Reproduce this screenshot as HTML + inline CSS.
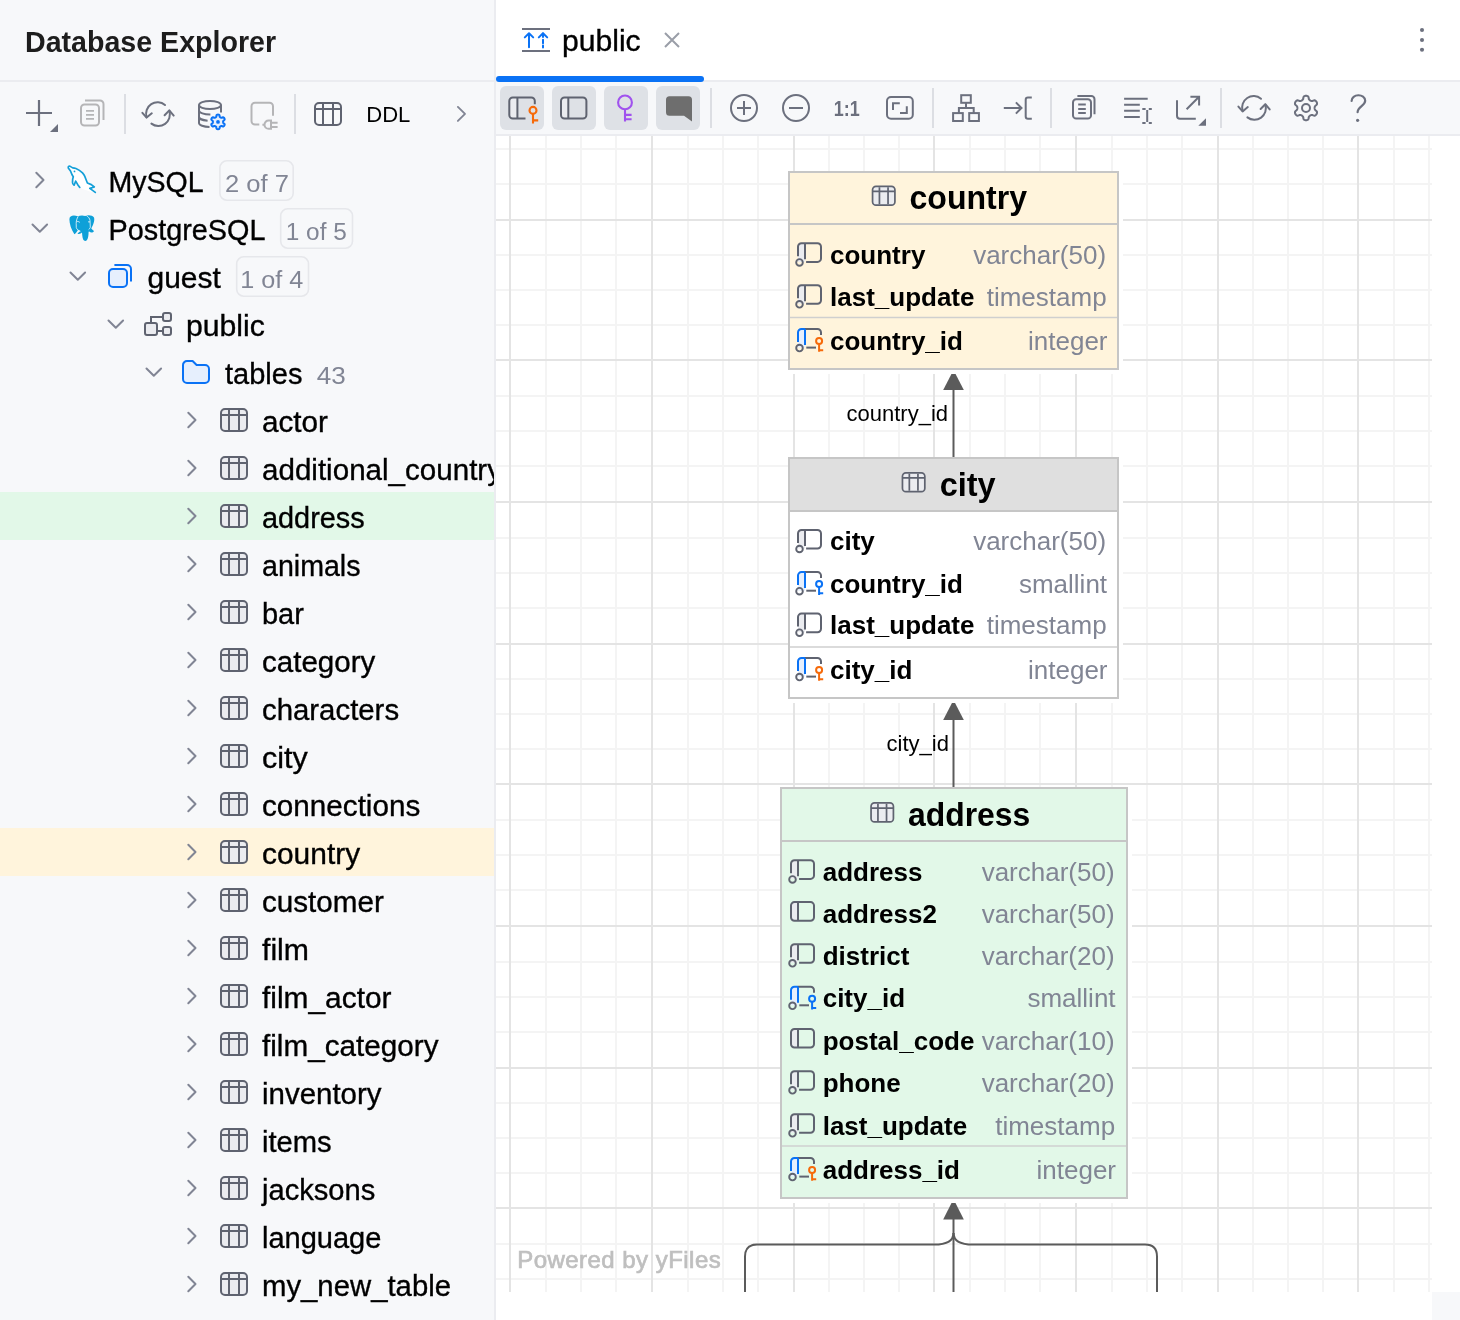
<!DOCTYPE html><html><head><meta charset="utf-8"><title>Database Explorer</title><style>
html,body{margin:0;padding:0;width:1460px;height:1320px;overflow:hidden;background:#fff;}
body{font-family:'Liberation Sans', sans-serif;position:relative;}
.panel{position:absolute;left:0;top:0;width:494px;height:1320px;background:#f7f8fa;}
.divider{position:absolute;left:494px;top:0;width:2px;height:1320px;background:#ebecf0;}
.editor{position:absolute;left:496px;top:0;width:964px;height:1320px;background:#fff;}
.tabs{position:absolute;left:0;top:0;width:964px;height:80px;background:#fff;border-bottom:2px solid #ebecf0;}
.dtool{position:absolute;left:0;top:82px;width:964px;height:52px;background:#f7f8fa;border-bottom:2px solid #ebecf0;}
.corner{position:absolute;left:936px;top:1292px;width:28px;height:28px;background:#f7f8fa;}
svg{position:absolute;left:0;top:0;overflow:visible;will-change:transform}
svg text{font-family:"Liberation Sans",sans-serif;white-space:pre}
</style></head><body>
<div class="panel"></div><div class="divider"></div>
<div class="editor"><div class="tabs"></div><div class="dtool"></div><div class="corner"></div></div>
<svg width="1460" height="1320" viewBox="0 0 1460 1320">
<text x="25" y="52.4" font-size="28.6" fill="#1d1d1d" font-weight="bold" text-anchor="start" >Database Explorer</text>
<rect x="0" y="80" width="494" height="2" fill="#ebecf0"/>
<path d="M26 113 H52 M39 100 V126" stroke="#6c707e" stroke-width="2.2"/>
<path d="M58 124 V132 H50 Z" fill="#6c707e"/>
<path d="M85 100.5 H100 A3.5 3.5 0 0 1 103.5 104 V120" fill="none" stroke="#b5b5b7" stroke-width="2"/>
<rect x="81" y="104.5" width="18" height="21" rx="3.5" fill="none" stroke="#b5b5b7" stroke-width="2"/>
<path d="M86 110.9 H94 M86 114.8 H94 M86 118.8 H94" stroke="#b5b5b7" stroke-width="1.8"/>
<rect x="124" y="94" width="2" height="40" fill="#dcdee3"/>
<g transform="translate(158 114.2)" fill="none" stroke="#6c707e" stroke-width="2" stroke-linecap="round" stroke-linejoin="round"><path d="M-11.4 3 A11.5 11.5 0 0 1 7 -9.2"/><path d="M-15.6 -1.4 L-11.4 3.4 L-6.2 -0.9"/><path d="M-6.6 9.4 A11.5 11.5 0 0 0 11.3 -3.4"/><path d="M6.6 1 L11.3 -3.8 L15.7 1.4"/></g>
<g fill="none" stroke="#6c707e" stroke-width="2"><ellipse cx="210" cy="105" rx="11" ry="4"/><path d="M199 105 V123 A11 4 0 0 0 209.5 127"/><path d="M199 110.5 A11 4 0 0 0 210.4 114.5"/><path d="M199 116.7 A11 4 0 0 0 207.6 120.7"/><path d="M221 105 V112.4"/></g>
<path d="M223.10 121.90 L223.11 122.12 L223.13 122.35 L223.18 122.58 L223.26 122.83 L223.38 123.09 L223.99 123.50 L224.57 123.97 L224.64 124.32 L224.63 124.65 L224.57 124.96 L224.46 125.26 L224.32 125.55 L224.15 125.82 L223.94 126.06 L223.69 126.27 L223.41 126.44 L223.08 126.55 L222.38 126.28 L221.73 125.97 L221.43 125.99 L221.18 126.05 L220.96 126.12 L220.75 126.21 L220.55 126.32 L220.36 126.44 L220.18 126.57 L220.00 126.73 L219.83 126.92 L219.66 127.16 L219.60 127.89 L219.49 128.62 L219.23 128.86 L218.94 129.01 L218.63 129.12 L218.32 129.18 L218.00 129.20 L217.68 129.18 L217.37 129.12 L217.06 129.01 L216.77 128.86 L216.51 128.62 L216.40 127.89 L216.34 127.16 L216.17 126.92 L216.00 126.73 L215.82 126.57 L215.64 126.44 L215.45 126.32 L215.25 126.21 L215.04 126.12 L214.82 126.05 L214.57 125.99 L214.27 125.97 L213.62 126.28 L212.92 126.55 L212.59 126.44 L212.31 126.27 L212.06 126.06 L211.85 125.82 L211.68 125.55 L211.54 125.26 L211.43 124.96 L211.37 124.65 L211.36 124.32 L211.43 123.97 L212.01 123.50 L212.62 123.09 L212.74 122.83 L212.82 122.58 L212.87 122.35 L212.89 122.12 L212.90 121.90 L212.89 121.68 L212.87 121.45 L212.82 121.22 L212.74 120.97 L212.62 120.71 L212.01 120.30 L211.43 119.83 L211.36 119.48 L211.37 119.15 L211.43 118.84 L211.54 118.54 L211.68 118.25 L211.85 117.98 L212.06 117.74 L212.31 117.53 L212.59 117.36 L212.92 117.25 L213.62 117.52 L214.27 117.83 L214.57 117.81 L214.82 117.75 L215.04 117.68 L215.25 117.59 L215.45 117.48 L215.64 117.36 L215.82 117.23 L216.00 117.07 L216.17 116.88 L216.34 116.64 L216.40 115.91 L216.51 115.18 L216.77 114.94 L217.06 114.79 L217.37 114.68 L217.68 114.62 L218.00 114.60 L218.32 114.62 L218.63 114.68 L218.94 114.79 L219.23 114.94 L219.49 115.18 L219.60 115.91 L219.66 116.64 L219.83 116.88 L220.00 117.07 L220.18 117.23 L220.36 117.36 L220.55 117.48 L220.75 117.59 L220.96 117.68 L221.18 117.75 L221.43 117.81 L221.73 117.83 L222.38 117.52 L223.08 117.25 L223.41 117.36 L223.69 117.53 L223.94 117.74 L224.15 117.98 L224.32 118.25 L224.46 118.54 L224.57 118.84 L224.63 119.15 L224.64 119.48 L224.57 119.83 L223.99 120.30 L223.38 120.71 L223.26 120.97 L223.18 121.22 L223.13 121.45 L223.11 121.68 Z" fill="#e6effd" stroke="#0a72f5" stroke-width="2" stroke-linejoin="round"/>
<circle cx="218" cy="121.9" r="1.9" fill="#0a72f5"/>
<g fill="none" stroke="#b5b5b7" stroke-width="2"><path d="M259.3 124.5 H255 A3.5 3.5 0 0 1 251.5 121 V106.3 A3.5 3.5 0 0 1 255 102.8 H269.5 A3.5 3.5 0 0 1 273 106.3 V115.7"/><path d="M271 120.6 H268.6 A4.1 4.1 0 0 0 268.6 128.8 H271 Z"/><path d="M262.4 124.7 H265 M271 122.7 H277.6 M271 126.9 H277.6"/></g>
<rect x="294" y="94" width="2" height="40" fill="#dcdee3"/>
<g transform="translate(312 98) scale(2)"><rect x="1.5" y="2.5" width="13" height="11" rx="2" fill="none" stroke="#5f6370" stroke-width="1"/><path d="M1.5 5.5 H14.5 M5.5 3 V13 M10.5 3 V13" stroke="#5f6370" stroke-width="1" fill="none"/></g>
<text x="366.2" y="122.1" font-size="22.5" fill="#000" font-weight="normal" text-anchor="start" textLength="44.2" lengthAdjust="spacingAndGlyphs">DDL</text>
<path d="M457.9 106.9 L465 113.9 L457.9 120.9" fill="none" stroke="#818594" stroke-width="1.9" stroke-linecap="round" stroke-linejoin="round"/>
<rect x="0" y="492" width="494" height="48" fill="#e2f8e8"/>
<rect x="0" y="828" width="494" height="48" fill="#fff4dc"/>
<defs><clipPath id="clipL"><rect x="0" y="0" width="494" height="1320"/></clipPath><clipPath id="clipC"><rect x="496" y="136" width="936" height="1156"/></clipPath></defs>
<g clip-path="url(#clipL)">
<g transform="translate(23.8 164) scale(2)"><path d="M6.25 4.35 L9.85 8 L6.25 11.65" fill="none" stroke="#818594" stroke-width="1" stroke-linecap="round" stroke-linejoin="round"/></g>
<g transform="translate(66 164) scale(2)"><path d="M6.90 11.70 L5.80 10.20 L4.85 8.55 L4.05 10.60 Q3.20 10.10 3.25 9.20 L3.35 7.45 Q3.55 6.75 3.65 6.35 L3.10 5.55 L2.25 3.50 L1.15 2.00 Q0.95 1.05 1.90 1.05 L3.35 1.95 Q4.25 2.00 4.95 2.25 Q6.80 3.00 8.25 4.45 Q9.10 5.40 9.40 6.20 L10.20 8.25 L10.70 9.50 L12.65 10.30 L14.15 11.50 L11.90 12.20 L14.65 14.20 L12.00 13.80 L9.00 12.80 Z" fill="#fff"/><path d="M6.90 11.70 L5.80 10.20 L4.85 8.55 L4.05 10.60 Q3.20 10.10 3.25 9.20 L3.35 7.45 Q3.55 6.75 3.65 6.35 L3.10 5.55 L2.25 3.50 L1.15 2.00 Q0.95 1.05 1.90 1.05 L3.35 1.95 Q4.25 2.00 4.95 2.25 Q6.80 3.00 8.25 4.45 Q9.10 5.40 9.40 6.20 L10.20 8.25 L10.70 9.50 L12.65 10.30 L14.15 11.50 L11.90 12.20 L14.65 14.20" fill="none" stroke="#139fd8" stroke-width="0.85" stroke-linejoin="round" stroke-linecap="round"/><circle cx="4.25" cy="3.7" r="0.45" fill="#139fd8"/></g>
<text x="108.5" y="192.4" font-size="29" fill="#000" font-weight="normal" text-anchor="start" textLength="95.14" lengthAdjust="spacingAndGlyphs" stroke="#000" stroke-width="0.35">MySQL</text>
<rect x="219.9" y="160.8" width="73.30000000000001" height="39.4" rx="7" fill="none" stroke="#e6e7eb" stroke-width="1.6"/>
<text x="225.0" y="191.9" font-size="24.6" fill="#818594" font-weight="normal" text-anchor="start" textLength="63.96" lengthAdjust="spacingAndGlyphs">2 of 7</text>
<g transform="translate(23.8 212) scale(2)"><path d="M4.35 6.25 L8 9.85 L11.65 6.25" fill="none" stroke="#818594" stroke-width="1" stroke-linecap="round" stroke-linejoin="round"/></g>
<g transform="translate(66 212) scale(2)"><path d="M1.70 3.60 C1.70 1.80 3.75 1.30 5.90 2.15 C7.00 1.60 8.50 1.55 9.60 1.95 C10.70 1.35 13.30 1.40 14.00 2.80 C14.50 4.25 13.60 6.60 12.65 8.20 C13.10 8.80 13.70 9.10 14.00 9.60 C13.40 10.40 12.40 10.40 11.60 9.80 L11.30 9.90 C11.30 11.50 11.10 13.15 10.50 14.00 C10.00 14.65 9.05 14.65 8.65 13.90 C8.15 12.70 8.10 11.30 8.00 10.20 C7.30 10.70 6.50 11.10 5.70 11.00 C6.10 10.40 6.70 9.90 7.20 9.55 L6.00 8.95 C5.45 9.80 4.90 10.60 4.20 11.10 C2.60 8.80 1.70 5.80 1.70 3.60 Z" fill="#0ea0d8"/><path d="M6.10 2.20 C5.40 3.25 5.10 4.50 5.10 5.75 L5.15 7.80 C5.40 8.75 6.30 9.35 7.20 9.60 M10.20 1.80 C11.20 2.40 11.90 3.30 12.00 4.25 L12.15 7.70 C12.00 8.30 11.50 8.60 11.30 8.80 M5.30 4.80 C5.80 4.65 6.40 4.75 6.90 5.20 M11.00 5.00 C11.30 4.80 11.70 4.80 12.00 5.05" fill="none" stroke="#fff" stroke-width="0.42" opacity="0.9"/></g>
<text x="108.55" y="240.4" font-size="29" fill="#000" font-weight="normal" text-anchor="start" textLength="156.9" lengthAdjust="spacingAndGlyphs" stroke="#000" stroke-width="0.35">PostgreSQL</text>
<rect x="280.7" y="208.8" width="71.80000000000004" height="39.4" rx="7" fill="none" stroke="#e6e7eb" stroke-width="1.6"/>
<text x="285.8" y="239.9" font-size="24.6" fill="#818594" font-weight="normal" text-anchor="start" textLength="60.99" lengthAdjust="spacingAndGlyphs">1 of 5</text>
<g transform="translate(61.8 260) scale(2)"><path d="M4.35 6.25 L8 9.85 L11.65 6.25" fill="none" stroke="#818594" stroke-width="1" stroke-linecap="round" stroke-linejoin="round"/></g>
<g transform="translate(104 260) scale(2)"><path d="M5.2 2.5 H11.5 A2 2 0 0 1 13.5 4.5 V10.8" fill="none" stroke="#0a72f5" stroke-width="1" stroke-linecap="butt"/><rect x="2.5" y="4.5" width="9" height="9" rx="2" fill="#e6effd" stroke="#0a72f5" stroke-width="1"/></g>
<text x="147.55" y="288.4" font-size="29" fill="#000" font-weight="normal" text-anchor="start" textLength="73.3" lengthAdjust="spacingAndGlyphs" stroke="#000" stroke-width="0.35">guest</text>
<rect x="236.70000000000002" y="256.8" width="71.80000000000001" height="39.4" rx="7" fill="none" stroke="#e6e7eb" stroke-width="1.6"/>
<text x="240.3" y="287.9" font-size="24.6" fill="#818594" font-weight="normal" text-anchor="start" textLength="63.04" lengthAdjust="spacingAndGlyphs">1 of 4</text>
<g transform="translate(99.8 308) scale(2)"><path d="M4.35 6.25 L8 9.85 L11.65 6.25" fill="none" stroke="#818594" stroke-width="1" stroke-linecap="round" stroke-linejoin="round"/></g>
<g transform="translate(142 308) scale(2)"><path d="M4.5 7.5 V4.5 H10.5 M7.5 11.5 H10.5" fill="none" stroke="#5f6370" stroke-width="1"/><rect x="1.5" y="7.5" width="6" height="6" rx="1" fill="#ebecf0" stroke="#5f6370" stroke-width="1"/><rect x="10.5" y="2.5" width="4" height="4" rx="1" fill="#ebecf0" stroke="#5f6370" stroke-width="1"/><rect x="10.5" y="9.5" width="4" height="4" rx="1" fill="#ebecf0" stroke="#5f6370" stroke-width="1"/></g>
<text x="185.94" y="336.4" font-size="29" fill="#000" font-weight="normal" text-anchor="start" textLength="78.86" lengthAdjust="spacingAndGlyphs" stroke="#000" stroke-width="0.35">public</text>
<g transform="translate(137.8 356) scale(2)"><path d="M4.35 6.25 L8 9.85 L11.65 6.25" fill="none" stroke="#818594" stroke-width="1" stroke-linecap="round" stroke-linejoin="round"/></g>
<g transform="translate(180 356) scale(2)"><path d="M1.5 4.5 A2 2 0 0 1 3.5 2.5 H6.3 L8.3 4.5 H12.5 A2 2 0 0 1 14.5 6.5 V11.5 A2 2 0 0 1 12.5 13.5 H3.5 A2 2 0 0 1 1.5 11.5 Z" fill="#e6effd" stroke="#0a72f5" stroke-width="1" stroke-linejoin="round"/></g>
<text x="225.0" y="384.4" font-size="29" fill="#000" font-weight="normal" text-anchor="start"  stroke="#000" stroke-width="0.35">tables</text>
<text x="316.8" y="384.4" font-size="24.5" fill="#818594" font-weight="normal" text-anchor="start" textLength="29" lengthAdjust="spacingAndGlyphs">43</text>
<g transform="translate(175.8 404) scale(2)"><path d="M6.25 4.35 L9.85 8 L6.25 11.65" fill="none" stroke="#818594" stroke-width="1" stroke-linecap="round" stroke-linejoin="round"/></g>
<g transform="translate(218 404) scale(2)"><rect x="1.5" y="2.5" width="13" height="11" rx="2" fill="#ebecf0" stroke="#5f6370" stroke-width="1"/><path d="M1.5 5.5 H14.5 M5.5 3 V13 M10.5 3 V13" stroke="#5f6370" stroke-width="1" fill="none"/></g>
<text x="262.0" y="432.4" font-size="29" fill="#000" font-weight="normal" text-anchor="start" textLength="65.97" lengthAdjust="spacingAndGlyphs" stroke="#000" stroke-width="0.35">actor</text>
<g transform="translate(175.8 452) scale(2)"><path d="M6.25 4.35 L9.85 8 L6.25 11.65" fill="none" stroke="#818594" stroke-width="1" stroke-linecap="round" stroke-linejoin="round"/></g>
<g transform="translate(218 452) scale(2)"><rect x="1.5" y="2.5" width="13" height="11" rx="2" fill="#ebecf0" stroke="#5f6370" stroke-width="1"/><path d="M1.5 5.5 H14.5 M5.5 3 V13 M10.5 3 V13" stroke="#5f6370" stroke-width="1" fill="none"/></g>
<text x="262.0" y="480.4" font-size="29" fill="#000" font-weight="normal" text-anchor="start" textLength="240.01" lengthAdjust="spacingAndGlyphs" stroke="#000" stroke-width="0.35">additional_country</text>
<g transform="translate(175.8 500) scale(2)"><path d="M6.25 4.35 L9.85 8 L6.25 11.65" fill="none" stroke="#818594" stroke-width="1" stroke-linecap="round" stroke-linejoin="round"/></g>
<g transform="translate(218 500) scale(2)"><rect x="1.5" y="2.5" width="13" height="11" rx="2" fill="#ebecf0" stroke="#5f6370" stroke-width="1"/><path d="M1.5 5.5 H14.5 M5.5 3 V13 M10.5 3 V13" stroke="#5f6370" stroke-width="1" fill="none"/></g>
<text x="262.0" y="528.4" font-size="29" fill="#000" font-weight="normal" text-anchor="start" textLength="102.65" lengthAdjust="spacingAndGlyphs" stroke="#000" stroke-width="0.35">address</text>
<g transform="translate(175.8 548) scale(2)"><path d="M6.25 4.35 L9.85 8 L6.25 11.65" fill="none" stroke="#818594" stroke-width="1" stroke-linecap="round" stroke-linejoin="round"/></g>
<g transform="translate(218 548) scale(2)"><rect x="1.5" y="2.5" width="13" height="11" rx="2" fill="#ebecf0" stroke="#5f6370" stroke-width="1"/><path d="M1.5 5.5 H14.5 M5.5 3 V13 M10.5 3 V13" stroke="#5f6370" stroke-width="1" fill="none"/></g>
<text x="262.0" y="576.4" font-size="29" fill="#000" font-weight="normal" text-anchor="start" textLength="98.48" lengthAdjust="spacingAndGlyphs" stroke="#000" stroke-width="0.35">animals</text>
<g transform="translate(175.8 596) scale(2)"><path d="M6.25 4.35 L9.85 8 L6.25 11.65" fill="none" stroke="#818594" stroke-width="1" stroke-linecap="round" stroke-linejoin="round"/></g>
<g transform="translate(218 596) scale(2)"><rect x="1.5" y="2.5" width="13" height="11" rx="2" fill="#ebecf0" stroke="#5f6370" stroke-width="1"/><path d="M1.5 5.5 H14.5 M5.5 3 V13 M10.5 3 V13" stroke="#5f6370" stroke-width="1" fill="none"/></g>
<text x="262.0" y="624.4" font-size="29" fill="#000" font-weight="normal" text-anchor="start" textLength="41.91" lengthAdjust="spacingAndGlyphs" stroke="#000" stroke-width="0.35">bar</text>
<g transform="translate(175.8 644) scale(2)"><path d="M6.25 4.35 L9.85 8 L6.25 11.65" fill="none" stroke="#818594" stroke-width="1" stroke-linecap="round" stroke-linejoin="round"/></g>
<g transform="translate(218 644) scale(2)"><rect x="1.5" y="2.5" width="13" height="11" rx="2" fill="#ebecf0" stroke="#5f6370" stroke-width="1"/><path d="M1.5 5.5 H14.5 M5.5 3 V13 M10.5 3 V13" stroke="#5f6370" stroke-width="1" fill="none"/></g>
<text x="262.0" y="672.4" font-size="29" fill="#000" font-weight="normal" text-anchor="start" textLength="113.33" lengthAdjust="spacingAndGlyphs" stroke="#000" stroke-width="0.35">category</text>
<g transform="translate(175.8 692) scale(2)"><path d="M6.25 4.35 L9.85 8 L6.25 11.65" fill="none" stroke="#818594" stroke-width="1" stroke-linecap="round" stroke-linejoin="round"/></g>
<g transform="translate(218 692) scale(2)"><rect x="1.5" y="2.5" width="13" height="11" rx="2" fill="#ebecf0" stroke="#5f6370" stroke-width="1"/><path d="M1.5 5.5 H14.5 M5.5 3 V13 M10.5 3 V13" stroke="#5f6370" stroke-width="1" fill="none"/></g>
<text x="262.0" y="720.4" font-size="29" fill="#000" font-weight="normal" text-anchor="start" textLength="137.09" lengthAdjust="spacingAndGlyphs" stroke="#000" stroke-width="0.35">characters</text>
<g transform="translate(175.8 740) scale(2)"><path d="M6.25 4.35 L9.85 8 L6.25 11.65" fill="none" stroke="#818594" stroke-width="1" stroke-linecap="round" stroke-linejoin="round"/></g>
<g transform="translate(218 740) scale(2)"><rect x="1.5" y="2.5" width="13" height="11" rx="2" fill="#ebecf0" stroke="#5f6370" stroke-width="1"/><path d="M1.5 5.5 H14.5 M5.5 3 V13 M10.5 3 V13" stroke="#5f6370" stroke-width="1" fill="none"/></g>
<text x="262.0" y="768.4" font-size="29" fill="#000" font-weight="normal" text-anchor="start" textLength="45.71" lengthAdjust="spacingAndGlyphs" stroke="#000" stroke-width="0.35">city</text>
<g transform="translate(175.8 788) scale(2)"><path d="M6.25 4.35 L9.85 8 L6.25 11.65" fill="none" stroke="#818594" stroke-width="1" stroke-linecap="round" stroke-linejoin="round"/></g>
<g transform="translate(218 788) scale(2)"><rect x="1.5" y="2.5" width="13" height="11" rx="2" fill="#ebecf0" stroke="#5f6370" stroke-width="1"/><path d="M1.5 5.5 H14.5 M5.5 3 V13 M10.5 3 V13" stroke="#5f6370" stroke-width="1" fill="none"/></g>
<text x="262.0" y="816.4" font-size="29" fill="#000" font-weight="normal" text-anchor="start" textLength="158.28" lengthAdjust="spacingAndGlyphs" stroke="#000" stroke-width="0.35">connections</text>
<g transform="translate(175.8 836) scale(2)"><path d="M6.25 4.35 L9.85 8 L6.25 11.65" fill="none" stroke="#818594" stroke-width="1" stroke-linecap="round" stroke-linejoin="round"/></g>
<g transform="translate(218 836) scale(2)"><rect x="1.5" y="2.5" width="13" height="11" rx="2" fill="#ebecf0" stroke="#5f6370" stroke-width="1"/><path d="M1.5 5.5 H14.5 M5.5 3 V13 M10.5 3 V13" stroke="#5f6370" stroke-width="1" fill="none"/></g>
<text x="262.0" y="864.4" font-size="29" fill="#000" font-weight="normal" text-anchor="start" textLength="98.12" lengthAdjust="spacingAndGlyphs" stroke="#000" stroke-width="0.35">country</text>
<g transform="translate(175.8 884) scale(2)"><path d="M6.25 4.35 L9.85 8 L6.25 11.65" fill="none" stroke="#818594" stroke-width="1" stroke-linecap="round" stroke-linejoin="round"/></g>
<g transform="translate(218 884) scale(2)"><rect x="1.5" y="2.5" width="13" height="11" rx="2" fill="#ebecf0" stroke="#5f6370" stroke-width="1"/><path d="M1.5 5.5 H14.5 M5.5 3 V13 M10.5 3 V13" stroke="#5f6370" stroke-width="1" fill="none"/></g>
<text x="262.0" y="912.4" font-size="29" fill="#000" font-weight="normal" text-anchor="start" textLength="121.87" lengthAdjust="spacingAndGlyphs" stroke="#000" stroke-width="0.35">customer</text>
<g transform="translate(175.8 932) scale(2)"><path d="M6.25 4.35 L9.85 8 L6.25 11.65" fill="none" stroke="#818594" stroke-width="1" stroke-linecap="round" stroke-linejoin="round"/></g>
<g transform="translate(218 932) scale(2)"><rect x="1.5" y="2.5" width="13" height="11" rx="2" fill="#ebecf0" stroke="#5f6370" stroke-width="1"/><path d="M1.5 5.5 H14.5 M5.5 3 V13 M10.5 3 V13" stroke="#5f6370" stroke-width="1" fill="none"/></g>
<text x="262.0" y="960.4" font-size="29" fill="#000" font-weight="normal" text-anchor="start" textLength="46.96" lengthAdjust="spacingAndGlyphs" stroke="#000" stroke-width="0.35">film</text>
<g transform="translate(175.8 980) scale(2)"><path d="M6.25 4.35 L9.85 8 L6.25 11.65" fill="none" stroke="#818594" stroke-width="1" stroke-linecap="round" stroke-linejoin="round"/></g>
<g transform="translate(218 980) scale(2)"><rect x="1.5" y="2.5" width="13" height="11" rx="2" fill="#ebecf0" stroke="#5f6370" stroke-width="1"/><path d="M1.5 5.5 H14.5 M5.5 3 V13 M10.5 3 V13" stroke="#5f6370" stroke-width="1" fill="none"/></g>
<text x="262.0" y="1008.4" font-size="29" fill="#000" font-weight="normal" text-anchor="start" textLength="129.5" lengthAdjust="spacingAndGlyphs" stroke="#000" stroke-width="0.35">film_actor</text>
<g transform="translate(175.8 1028) scale(2)"><path d="M6.25 4.35 L9.85 8 L6.25 11.65" fill="none" stroke="#818594" stroke-width="1" stroke-linecap="round" stroke-linejoin="round"/></g>
<g transform="translate(218 1028) scale(2)"><rect x="1.5" y="2.5" width="13" height="11" rx="2" fill="#ebecf0" stroke="#5f6370" stroke-width="1"/><path d="M1.5 5.5 H14.5 M5.5 3 V13 M10.5 3 V13" stroke="#5f6370" stroke-width="1" fill="none"/></g>
<text x="262.0" y="1056.4" font-size="29" fill="#000" font-weight="normal" text-anchor="start" textLength="176.54" lengthAdjust="spacingAndGlyphs" stroke="#000" stroke-width="0.35">film_category</text>
<g transform="translate(175.8 1076) scale(2)"><path d="M6.25 4.35 L9.85 8 L6.25 11.65" fill="none" stroke="#818594" stroke-width="1" stroke-linecap="round" stroke-linejoin="round"/></g>
<g transform="translate(218 1076) scale(2)"><rect x="1.5" y="2.5" width="13" height="11" rx="2" fill="#ebecf0" stroke="#5f6370" stroke-width="1"/><path d="M1.5 5.5 H14.5 M5.5 3 V13 M10.5 3 V13" stroke="#5f6370" stroke-width="1" fill="none"/></g>
<text x="262.0" y="1104.4" font-size="29" fill="#000" font-weight="normal" text-anchor="start" textLength="119.46" lengthAdjust="spacingAndGlyphs" stroke="#000" stroke-width="0.35">inventory</text>
<g transform="translate(175.8 1124) scale(2)"><path d="M6.25 4.35 L9.85 8 L6.25 11.65" fill="none" stroke="#818594" stroke-width="1" stroke-linecap="round" stroke-linejoin="round"/></g>
<g transform="translate(218 1124) scale(2)"><rect x="1.5" y="2.5" width="13" height="11" rx="2" fill="#ebecf0" stroke="#5f6370" stroke-width="1"/><path d="M1.5 5.5 H14.5 M5.5 3 V13 M10.5 3 V13" stroke="#5f6370" stroke-width="1" fill="none"/></g>
<text x="262.0" y="1152.4" font-size="29" fill="#000" font-weight="normal" text-anchor="start" textLength="69.69" lengthAdjust="spacingAndGlyphs" stroke="#000" stroke-width="0.35">items</text>
<g transform="translate(175.8 1172) scale(2)"><path d="M6.25 4.35 L9.85 8 L6.25 11.65" fill="none" stroke="#818594" stroke-width="1" stroke-linecap="round" stroke-linejoin="round"/></g>
<g transform="translate(218 1172) scale(2)"><rect x="1.5" y="2.5" width="13" height="11" rx="2" fill="#ebecf0" stroke="#5f6370" stroke-width="1"/><path d="M1.5 5.5 H14.5 M5.5 3 V13 M10.5 3 V13" stroke="#5f6370" stroke-width="1" fill="none"/></g>
<text x="262.0" y="1200.4" font-size="29" fill="#000" font-weight="normal" text-anchor="start" textLength="113.32" lengthAdjust="spacingAndGlyphs" stroke="#000" stroke-width="0.35">jacksons</text>
<g transform="translate(175.8 1220) scale(2)"><path d="M6.25 4.35 L9.85 8 L6.25 11.65" fill="none" stroke="#818594" stroke-width="1" stroke-linecap="round" stroke-linejoin="round"/></g>
<g transform="translate(218 1220) scale(2)"><rect x="1.5" y="2.5" width="13" height="11" rx="2" fill="#ebecf0" stroke="#5f6370" stroke-width="1"/><path d="M1.5 5.5 H14.5 M5.5 3 V13 M10.5 3 V13" stroke="#5f6370" stroke-width="1" fill="none"/></g>
<text x="262.0" y="1248.4" font-size="29" fill="#000" font-weight="normal" text-anchor="start" textLength="119.31" lengthAdjust="spacingAndGlyphs" stroke="#000" stroke-width="0.35">language</text>
<g transform="translate(175.8 1268) scale(2)"><path d="M6.25 4.35 L9.85 8 L6.25 11.65" fill="none" stroke="#818594" stroke-width="1" stroke-linecap="round" stroke-linejoin="round"/></g>
<g transform="translate(218 1268) scale(2)"><rect x="1.5" y="2.5" width="13" height="11" rx="2" fill="#ebecf0" stroke="#5f6370" stroke-width="1"/><path d="M1.5 5.5 H14.5 M5.5 3 V13 M10.5 3 V13" stroke="#5f6370" stroke-width="1" fill="none"/></g>
<text x="262.0" y="1296.4" font-size="29" fill="#000" font-weight="normal" text-anchor="start" textLength="188.99" lengthAdjust="spacingAndGlyphs" stroke="#000" stroke-width="0.35">my_new_table</text>
</g>
<rect x="494" y="0" width="2" height="1320" fill="#ebecf0"/>
<rect x="496" y="80" width="964" height="2" fill="#ebecf0"/>
<rect x="496" y="76" width="208" height="6" rx="3" fill="#0a72f5"/>
<path d="M522 29 H550 M522 51 H550" stroke="#6c707e" stroke-width="2"/>
<path d="M529 47.3 V34 M524.8 37.4 L529 33.2 L533.2 37.4" fill="none" stroke="#0a72f5" stroke-width="2" stroke-linecap="round" stroke-linejoin="round"/>
<path d="M543 39.8 V43.2 M543 45.6 V47.4 M543 33.6 V37" fill="none" stroke="#0a72f5" stroke-width="2" stroke-linecap="round"/>
<path d="M538.8 37.4 L543 33.2 L547.2 37.4" fill="none" stroke="#0a72f5" stroke-width="2" stroke-linecap="round" stroke-linejoin="round"/>
<text x="561.94" y="51.4" font-size="29" fill="#000" font-weight="normal" text-anchor="start" textLength="78.76" lengthAdjust="spacingAndGlyphs" stroke="#000" stroke-width="0.35">public</text>
<path d="M665 33 L679 47 M679 33 L665 47" stroke="#9a9ea8" stroke-width="2"/>
<circle cx="1422" cy="30" r="2.05" fill="#6c707e"/>
<circle cx="1422" cy="40" r="2.05" fill="#6c707e"/>
<circle cx="1422" cy="49.8" r="2.05" fill="#6c707e"/>
<rect x="500" y="86" width="44" height="44" rx="6" fill="#dee1e6"/>
<rect x="552" y="86" width="44" height="44" rx="6" fill="#dee1e6"/>
<rect x="604" y="86" width="44" height="44" rx="6" fill="#dee1e6"/>
<rect x="656" y="86" width="44" height="44" rx="6" fill="#dee1e6"/>
<rect x="509.3" y="97.5" width="8" height="21" fill="#ebecf0"/>
<path d="M517.4 97.5 V118.5" stroke="#5f6370" stroke-width="2"/>
<path d="M525.5 118.5 H512.8 A3.5 3.5 0 0 1 509.3 115 V101 A3.5 3.5 0 0 1 512.8 97.5 H531.3 A3.5 3.5 0 0 1 534.8 101 V104.2" fill="none" stroke="#5f6370" stroke-width="2"/>
<circle cx="533" cy="110.4" r="3.5" fill="none" stroke="#f66a0a" stroke-width="2.1"/>
<path d="M533 113.9 V123.6 M533 120.4 H538.2" fill="none" stroke="#f66a0a" stroke-width="2.1"/>
<rect x="561" y="97.5" width="7.3" height="21" fill="#ebecf0"/>
<rect x="561" y="97.5" width="25.4" height="21" rx="3.5" fill="none" stroke="#5f6370" stroke-width="2"/>
<path d="M568.3 97.5 V118.5" stroke="#5f6370" stroke-width="2"/>
<circle cx="625" cy="102.4" r="6.9" fill="none" stroke="#a052ee" stroke-width="2.1"/>
<path d="M625 109.2 V121.6 M625 114.9 H631.6 M625 119.2 H631.6" fill="none" stroke="#a052ee" stroke-width="2.1"/>
<path d="M669.5 96.2 H688.5 A3.5 3.5 0 0 1 692 99.7 V121.4 L684 115.8 H669.5 A3.5 3.5 0 0 1 666 112.3 V99.7 A3.5 3.5 0 0 1 669.5 96.2 Z" fill="#6e6e6e"/>
<rect x="710" y="88" width="2" height="40" fill="#dcdee3"/>
<rect x="932" y="88" width="2" height="40" fill="#dcdee3"/>
<rect x="1050" y="88" width="2" height="40" fill="#dcdee3"/>
<rect x="1220" y="88" width="2" height="40" fill="#dcdee3"/>
<circle cx="744" cy="108" r="13" fill="none" stroke="#6c707e" stroke-width="2"/><path d="M737 108 H751 M744 101 V115" stroke="#6c707e" stroke-width="2"/>
<circle cx="796" cy="108" r="13" fill="none" stroke="#6c707e" stroke-width="2"/><path d="M789 108 H803" stroke="#6c707e" stroke-width="2"/>
<text x="833.8" y="116.3" font-size="22.5" fill="#6c707e" font-weight="bold" text-anchor="start" textLength="26" lengthAdjust="spacingAndGlyphs">1:1</text>
<rect x="887" y="97" width="25.8" height="21.8" rx="4" fill="none" stroke="#6c707e" stroke-width="2"/>
<path d="M893 110 V103.2 H899.8 M906.8 106.2 V113 H900" fill="none" stroke="#6c707e" stroke-width="2"/>
<g fill="none" stroke="#6c707e" stroke-width="2"><rect x="961.2" y="95.2" width="9.6" height="7.6"/><rect x="953.1" y="113.1" width="9.7" height="7.9"/><rect x="969.2" y="113.1" width="9.7" height="7.9"/><path d="M966 102.8 V108.1 M958.9 113.1 V108.1 H973.7 V113.1"/></g>
<g fill="none" stroke="#6c707e" stroke-width="2"><path d="M1003.8 108 H1021.4 M1015.9 102.4 L1021.5 108 L1015.9 113.6"/><path d="M1031.8 97.4 H1028 A2.3 2.3 0 0 0 1025.7 99.7 V116.5 A2.3 2.3 0 0 0 1028 118.8 H1031.8"/></g>
<g fill="none" stroke="#6c707e" stroke-width="2"><path d="M1077.4 96 H1091.3 A3.2 3.2 0 0 1 1094.5 99.2 V114.2"/><rect x="1073" y="99.3" width="18" height="19.3" rx="3.2"/><path d="M1078.2 104.6 H1085.8 M1078.2 108.9 H1085.8 M1078.2 112.9 H1085.8"/></g>
<g fill="none" stroke="#6c707e" stroke-width="2"><path d="M1124.1 98.8 H1147.7 M1124.1 104.7 H1139.8 M1124.1 110.8 H1139.8 M1124.1 117 H1139.8"/><path d="M1147.2 110 V122 M1142.3 109 H1145.6 M1148.8 109 H1151.8 M1142.3 123 H1145.6 M1148.8 123 H1151.8"/></g>
<g fill="none" stroke="#6c707e" stroke-width="2"><path d="M1177 100.2 V115.8 A3 3 0 0 0 1180 118.8 H1195.8"/><path d="M1186.6 109.2 L1198.3 97.5 M1190.4 96.7 H1199.1 V105.5"/></g>
<path d="M1206 118.3 V125.8 H1198.3 Z" fill="#6c707e"/>
<g transform="translate(1254 108)" fill="none" stroke="#6c707e" stroke-width="2" stroke-linecap="round" stroke-linejoin="round"><path d="M-11.4 3 A11.5 11.5 0 0 1 7 -9.2"/><path d="M-15.6 -1.4 L-11.4 3.4 L-6.2 -0.9"/><path d="M-6.6 9.4 A11.5 11.5 0 0 0 11.3 -3.4"/><path d="M6.6 1 L11.3 -3.8 L15.7 1.4"/></g>
<path d="M1314.60 108.00 L1314.62 108.38 L1314.68 108.76 L1314.78 109.16 L1314.94 109.58 L1315.20 110.04 L1316.05 110.69 L1316.85 111.42 L1317.01 112.01 L1317.03 112.57 L1316.95 113.11 L1316.80 113.62 L1316.57 114.10 L1316.27 114.54 L1315.90 114.93 L1315.47 115.27 L1314.98 115.53 L1314.39 115.69 L1313.35 115.35 L1312.36 114.95 L1311.84 114.96 L1311.39 115.03 L1311.00 115.14 L1310.64 115.28 L1310.30 115.45 L1309.98 115.65 L1309.68 115.90 L1309.39 116.19 L1309.11 116.53 L1308.83 116.98 L1308.69 118.05 L1308.46 119.11 L1308.03 119.54 L1307.56 119.84 L1307.05 120.04 L1306.53 120.16 L1306.00 120.20 L1305.47 120.16 L1304.95 120.04 L1304.44 119.84 L1303.97 119.54 L1303.54 119.11 L1303.31 118.05 L1303.17 116.98 L1302.89 116.53 L1302.61 116.19 L1302.32 115.90 L1302.02 115.65 L1301.70 115.45 L1301.36 115.28 L1301.00 115.14 L1300.61 115.03 L1300.16 114.96 L1299.64 114.95 L1298.65 115.35 L1297.61 115.69 L1297.02 115.53 L1296.53 115.27 L1296.10 114.93 L1295.73 114.54 L1295.43 114.10 L1295.20 113.62 L1295.05 113.11 L1294.97 112.57 L1294.99 112.01 L1295.15 111.42 L1295.95 110.69 L1296.80 110.04 L1297.06 109.58 L1297.22 109.16 L1297.32 108.76 L1297.38 108.38 L1297.40 108.00 L1297.38 107.62 L1297.32 107.24 L1297.22 106.84 L1297.06 106.42 L1296.80 105.96 L1295.95 105.31 L1295.15 104.58 L1294.99 103.99 L1294.97 103.43 L1295.05 102.89 L1295.20 102.38 L1295.43 101.90 L1295.73 101.46 L1296.10 101.07 L1296.53 100.73 L1297.02 100.47 L1297.61 100.31 L1298.65 100.65 L1299.64 101.05 L1300.16 101.04 L1300.61 100.97 L1301.00 100.86 L1301.36 100.72 L1301.70 100.55 L1302.02 100.35 L1302.32 100.10 L1302.61 99.81 L1302.89 99.47 L1303.17 99.02 L1303.31 97.95 L1303.54 96.89 L1303.97 96.46 L1304.44 96.16 L1304.95 95.96 L1305.47 95.84 L1306.00 95.80 L1306.53 95.84 L1307.05 95.96 L1307.56 96.16 L1308.03 96.46 L1308.46 96.89 L1308.69 97.95 L1308.83 99.02 L1309.11 99.47 L1309.39 99.81 L1309.68 100.10 L1309.98 100.35 L1310.30 100.55 L1310.64 100.72 L1311.00 100.86 L1311.39 100.97 L1311.84 101.04 L1312.36 101.05 L1313.35 100.65 L1314.39 100.31 L1314.98 100.47 L1315.47 100.73 L1315.90 101.07 L1316.27 101.46 L1316.57 101.90 L1316.80 102.38 L1316.95 102.89 L1317.03 103.43 L1317.01 103.99 L1316.85 104.58 L1316.05 105.31 L1315.20 105.96 L1314.94 106.42 L1314.78 106.84 L1314.68 107.24 L1314.62 107.62 Z" fill="none" stroke="#6c707e" stroke-width="2" stroke-linejoin="round"/>
<circle cx="1306" cy="108" r="4" fill="none" stroke="#6c707e" stroke-width="2"/>
<path d="M1351.6 101 C1351.4 93.6 1365.2 93.2 1365.2 100.8 C1365.2 105.6 1357.6 106.8 1357.6 112.2" fill="none" stroke="#6c707e" stroke-width="2.2" stroke-linecap="round"/><circle cx="1357.6" cy="120.3" r="1.6" fill="#6c707e"/>
<g clip-path="url(#clipC)">
<rect x="496" y="136" width="936" height="1156" fill="#fff"/>
<rect x="545" y="136" width="2" height="1156" fill="#f4f4f4"/><rect x="580" y="136" width="2" height="1156" fill="#f4f4f4"/><rect x="615" y="136" width="2" height="1156" fill="#f4f4f4"/><rect x="687" y="136" width="2" height="1156" fill="#f4f4f4"/><rect x="722" y="136" width="2" height="1156" fill="#f4f4f4"/><rect x="757" y="136" width="2" height="1156" fill="#f4f4f4"/><rect x="828" y="136" width="2" height="1156" fill="#f4f4f4"/><rect x="863" y="136" width="2" height="1156" fill="#f4f4f4"/><rect x="898" y="136" width="2" height="1156" fill="#f4f4f4"/><rect x="969" y="136" width="2" height="1156" fill="#f4f4f4"/><rect x="1004" y="136" width="2" height="1156" fill="#f4f4f4"/><rect x="1039" y="136" width="2" height="1156" fill="#f4f4f4"/><rect x="1111" y="136" width="2" height="1156" fill="#f4f4f4"/><rect x="1146" y="136" width="2" height="1156" fill="#f4f4f4"/><rect x="1181" y="136" width="2" height="1156" fill="#f4f4f4"/><rect x="1252" y="136" width="2" height="1156" fill="#f4f4f4"/><rect x="1287" y="136" width="2" height="1156" fill="#f4f4f4"/><rect x="1322" y="136" width="2" height="1156" fill="#f4f4f4"/><rect x="1393" y="136" width="2" height="1156" fill="#f4f4f4"/><rect x="1428" y="136" width="2" height="1156" fill="#f4f4f4"/><rect x="496" y="148" width="936" height="2" fill="#f4f4f4"/><rect x="496" y="183" width="936" height="2" fill="#f4f4f4"/><rect x="496" y="254" width="936" height="2" fill="#f4f4f4"/><rect x="496" y="289" width="936" height="2" fill="#f4f4f4"/><rect x="496" y="324" width="936" height="2" fill="#f4f4f4"/><rect x="496" y="395" width="936" height="2" fill="#f4f4f4"/><rect x="496" y="430" width="936" height="2" fill="#f4f4f4"/><rect x="496" y="465" width="936" height="2" fill="#f4f4f4"/><rect x="496" y="537" width="936" height="2" fill="#f4f4f4"/><rect x="496" y="572" width="936" height="2" fill="#f4f4f4"/><rect x="496" y="607" width="936" height="2" fill="#f4f4f4"/><rect x="496" y="678" width="936" height="2" fill="#f4f4f4"/><rect x="496" y="713" width="936" height="2" fill="#f4f4f4"/><rect x="496" y="748" width="936" height="2" fill="#f4f4f4"/><rect x="496" y="819" width="936" height="2" fill="#f4f4f4"/><rect x="496" y="854" width="936" height="2" fill="#f4f4f4"/><rect x="496" y="889" width="936" height="2" fill="#f4f4f4"/><rect x="496" y="961" width="936" height="2" fill="#f4f4f4"/><rect x="496" y="996" width="936" height="2" fill="#f4f4f4"/><rect x="496" y="1031" width="936" height="2" fill="#f4f4f4"/><rect x="496" y="1102" width="936" height="2" fill="#f4f4f4"/><rect x="496" y="1137" width="936" height="2" fill="#f4f4f4"/><rect x="496" y="1172" width="936" height="2" fill="#f4f4f4"/><rect x="496" y="1243" width="936" height="2" fill="#f4f4f4"/><rect x="496" y="1278" width="936" height="2" fill="#f4f4f4"/><rect x="509" y="136" width="2" height="1156" fill="#e4e4e4"/><rect x="651" y="136" width="2" height="1156" fill="#e4e4e4"/><rect x="793" y="136" width="2" height="1156" fill="#e4e4e4"/><rect x="933" y="136" width="2" height="1156" fill="#e4e4e4"/><rect x="1075" y="136" width="2" height="1156" fill="#e4e4e4"/><rect x="1217" y="136" width="2" height="1156" fill="#e4e4e4"/><rect x="1357" y="136" width="2" height="1156" fill="#e4e4e4"/><rect x="496" y="219" width="936" height="2" fill="#e4e4e4"/><rect x="496" y="359" width="936" height="2" fill="#e4e4e4"/><rect x="496" y="501" width="936" height="2" fill="#e4e4e4"/><rect x="496" y="643" width="936" height="2" fill="#e4e4e4"/><rect x="496" y="783" width="936" height="2" fill="#e4e4e4"/><rect x="496" y="925" width="936" height="2" fill="#e4e4e4"/><rect x="496" y="1067" width="936" height="2" fill="#e4e4e4"/><rect x="496" y="1207" width="936" height="2" fill="#e4e4e4"/>
<g fill="none" stroke="#5b5b5b" stroke-width="2"><path d="M953.5 389 V457"/><path d="M953.5 719 V787"/><path d="M953.5 1218 V1292"/><path d="M953.5 1233 C953.5 1241 947 1244.6 934 1244.6 H757 Q745 1244.6 745 1256.6 V1292"/><path d="M953.5 1233 C953.5 1241 960 1244.6 973 1244.6 H1145 Q1157 1244.6 1157 1256.6 V1292"/></g>
<g fill="#5b5b5b"><path d="M953.5 370 L963.8 390 H943.2 Z"/><path d="M953.5 700 L963.8 720 H943.2 Z"/><path d="M953.5 1199 L963.8 1219.5 H943.2 Z"/></g>
<text x="846.5" y="420.7" font-size="22" fill="#000" font-weight="normal" text-anchor="start" >country_id</text>
<text x="886.6" y="750.8" font-size="22" fill="#000" font-weight="normal" text-anchor="start" >city_id</text>
<text x="517.2" y="1268" font-size="24" fill="#bfbfbf" font-weight="normal" text-anchor="start" textLength="203.5" lengthAdjust="spacing" stroke="#bfbfbf" stroke-width="0.7">Powered by yFiles</text>
<rect x="792" y="175" width="331" height="199" fill="#fff"/>
<rect x="789" y="172" width="329" height="197" fill="#fff4dc" stroke="#c6c6c6" stroke-width="2"/>
<rect x="790" y="173" width="327" height="51" fill="#fff4dc"/>
<rect x="790" y="223" width="327" height="2" fill="#c6c6c6"/>
<rect x="790" y="316.75" width="327" height="1.5" fill="#cfcfcf"/>
<g transform="translate(869.98 182.0) scale(1.72)"><rect x="1.5" y="2.5" width="13" height="11" rx="2" fill="#ebecf0" stroke="#5f6370" stroke-width="1"/><path d="M1.5 5.5 H14.5 M5.5 3 V13 M10.5 3 V13" stroke="#5f6370" stroke-width="1" fill="none"/></g>
<text x="909.5" y="209.2" font-size="34" fill="#000" font-weight="bold" text-anchor="start" textLength="117.5" lengthAdjust="spacingAndGlyphs">country</text>
<g transform="translate(797 242.3)"><path d="M1 4.5 A3.5 3.5 0 0 1 4.5 1 H8 V19.6 H1 Z" fill="#ebecf0"/><path d="M8 1 H20.5 A3.5 3.5 0 0 1 24 4.5 V16.1 A3.5 3.5 0 0 1 20.5 19.6 H9.1" fill="none" stroke="#5f6370" stroke-width="2.0"/><path d="M1 14 V4.5 A3.5 3.5 0 0 1 4.5 1 H8 M8 1 V17" fill="none" stroke="#5f6370" stroke-width="2.0"/><circle cx="2.5" cy="20.1" r="3.3" fill="none" stroke="#5f6370" stroke-width="1.9"/></g>
<text x="830" y="263.8" font-size="26" fill="#000" font-weight="bold" text-anchor="start" >country</text>
<text x="1106.1" y="263.8" font-size="26" fill="#818594" font-weight="normal" text-anchor="end" >varchar(50)</text>
<g transform="translate(797 284.2)"><path d="M1 4.5 A3.5 3.5 0 0 1 4.5 1 H8 V19.6 H1 Z" fill="#ebecf0"/><path d="M8 1 H20.5 A3.5 3.5 0 0 1 24 4.5 V16.1 A3.5 3.5 0 0 1 20.5 19.6 H9.1" fill="none" stroke="#5f6370" stroke-width="2.0"/><path d="M1 14 V4.5 A3.5 3.5 0 0 1 4.5 1 H8 M8 1 V17" fill="none" stroke="#5f6370" stroke-width="2.0"/><circle cx="2.5" cy="20.1" r="3.3" fill="none" stroke="#5f6370" stroke-width="1.9"/></g>
<text x="830" y="305.7" font-size="26" fill="#000" font-weight="bold" text-anchor="start" >last_update</text>
<text x="1106.6" y="305.7" font-size="26" fill="#818594" font-weight="normal" text-anchor="end" >timestamp</text>
<g transform="translate(797 328.0)"><path d="M1 4.5 A3.5 3.5 0 0 1 4.5 1 H8 V19.6 H1 Z" fill="#e6effd"/><path d="M8 1 H20.5 A3.5 3.5 0 0 1 24 4.5 V7" fill="none" stroke="#5f6370" stroke-width="2.0"/><path d="M9.3 19.6 H19" fill="none" stroke="#5f6370" stroke-width="2.0"/><circle cx="22.1" cy="13" r="3" fill="none" stroke="#f66a0a" stroke-width="2"/><path d="M22.1 16 V23.8 M22.1 22.2 H26.2" fill="none" stroke="#f66a0a" stroke-width="2"/><path d="M1 14 V4.5 A3.5 3.5 0 0 1 4.5 1 H8 M8 1 V17" fill="none" stroke="#0a72f5" stroke-width="2.0"/><circle cx="2.5" cy="20.1" r="3.3" fill="none" stroke="#5f6370" stroke-width="1.9"/></g>
<text x="830" y="349.5" font-size="26" fill="#000" font-weight="bold" text-anchor="start" >country_id</text>
<text x="1107.5" y="349.5" font-size="26" fill="#818594" font-weight="normal" text-anchor="end" >integer</text>
<rect x="792" y="461" width="331" height="242" fill="#fff"/>
<rect x="789" y="458" width="329" height="240" fill="#fff" stroke="#c6c6c6" stroke-width="2"/>
<rect x="790" y="459" width="327" height="52" fill="#dfdfdf"/>
<rect x="790" y="510" width="327" height="2" fill="#c6c6c6"/>
<rect x="790" y="646.25" width="327" height="1.5" fill="#cfcfcf"/>
<g transform="translate(899.88 468.5) scale(1.72)"><rect x="1.5" y="2.5" width="13" height="11" rx="2" fill="#ebecf0" stroke="#5f6370" stroke-width="1"/><path d="M1.5 5.5 H14.5 M5.5 3 V13 M10.5 3 V13" stroke="#5f6370" stroke-width="1" fill="none"/></g>
<text x="939.7" y="495.7" font-size="34" fill="#000" font-weight="bold" text-anchor="start" textLength="55.9" lengthAdjust="spacingAndGlyphs">city</text>
<g transform="translate(797 528.9)"><path d="M1 4.5 A3.5 3.5 0 0 1 4.5 1 H8 V19.6 H1 Z" fill="#ebecf0"/><path d="M8 1 H20.5 A3.5 3.5 0 0 1 24 4.5 V16.1 A3.5 3.5 0 0 1 20.5 19.6 H9.1" fill="none" stroke="#5f6370" stroke-width="2.0"/><path d="M1 14 V4.5 A3.5 3.5 0 0 1 4.5 1 H8 M8 1 V17" fill="none" stroke="#5f6370" stroke-width="2.0"/><circle cx="2.5" cy="20.1" r="3.3" fill="none" stroke="#5f6370" stroke-width="1.9"/></g>
<text x="830" y="550.4" font-size="26" fill="#000" font-weight="bold" text-anchor="start" >city</text>
<text x="1106.1" y="550.4" font-size="26" fill="#818594" font-weight="normal" text-anchor="end" >varchar(50)</text>
<g transform="translate(797 571.1)"><path d="M1 4.5 A3.5 3.5 0 0 1 4.5 1 H8 V19.6 H1 Z" fill="#e6effd"/><path d="M8 1 H20.5 A3.5 3.5 0 0 1 24 4.5 V7" fill="none" stroke="#5f6370" stroke-width="2.0"/><path d="M9.3 19.6 H19" fill="none" stroke="#5f6370" stroke-width="2.0"/><circle cx="22.1" cy="13" r="3" fill="none" stroke="#0a72f5" stroke-width="2"/><path d="M22.1 16 V23.8 M22.1 22.2 H26.2" fill="none" stroke="#0a72f5" stroke-width="2"/><path d="M1 14 V4.5 A3.5 3.5 0 0 1 4.5 1 H8 M8 1 V17" fill="none" stroke="#0a72f5" stroke-width="2.0"/><circle cx="2.5" cy="20.1" r="3.3" fill="none" stroke="#5f6370" stroke-width="1.9"/></g>
<text x="830" y="592.6" font-size="26" fill="#000" font-weight="bold" text-anchor="start" >country_id</text>
<text x="1107.1" y="592.6" font-size="26" fill="#818594" font-weight="normal" text-anchor="end" >smallint</text>
<g transform="translate(797 612.6)"><path d="M1 4.5 A3.5 3.5 0 0 1 4.5 1 H8 V19.6 H1 Z" fill="#ebecf0"/><path d="M8 1 H20.5 A3.5 3.5 0 0 1 24 4.5 V16.1 A3.5 3.5 0 0 1 20.5 19.6 H9.1" fill="none" stroke="#5f6370" stroke-width="2.0"/><path d="M1 14 V4.5 A3.5 3.5 0 0 1 4.5 1 H8 M8 1 V17" fill="none" stroke="#5f6370" stroke-width="2.0"/><circle cx="2.5" cy="20.1" r="3.3" fill="none" stroke="#5f6370" stroke-width="1.9"/></g>
<text x="830" y="634.1" font-size="26" fill="#000" font-weight="bold" text-anchor="start" >last_update</text>
<text x="1106.6" y="634.1" font-size="26" fill="#818594" font-weight="normal" text-anchor="end" >timestamp</text>
<g transform="translate(797 657.0)"><path d="M1 4.5 A3.5 3.5 0 0 1 4.5 1 H8 V19.6 H1 Z" fill="#e6effd"/><path d="M8 1 H20.5 A3.5 3.5 0 0 1 24 4.5 V7" fill="none" stroke="#5f6370" stroke-width="2.0"/><path d="M9.3 19.6 H19" fill="none" stroke="#5f6370" stroke-width="2.0"/><circle cx="22.1" cy="13" r="3" fill="none" stroke="#f66a0a" stroke-width="2"/><path d="M22.1 16 V23.8 M22.1 22.2 H26.2" fill="none" stroke="#f66a0a" stroke-width="2"/><path d="M1 14 V4.5 A3.5 3.5 0 0 1 4.5 1 H8 M8 1 V17" fill="none" stroke="#0a72f5" stroke-width="2.0"/><circle cx="2.5" cy="20.1" r="3.3" fill="none" stroke="#5f6370" stroke-width="1.9"/></g>
<text x="830" y="678.5" font-size="26" fill="#000" font-weight="bold" text-anchor="start" >city_id</text>
<text x="1107.5" y="678.5" font-size="26" fill="#818594" font-weight="normal" text-anchor="end" >integer</text>
<rect x="784" y="791" width="348" height="412" fill="#fff"/>
<rect x="781" y="788" width="346" height="410" fill="#e2f8e8" stroke="#c6c6c6" stroke-width="2"/>
<rect x="782" y="789" width="344" height="52" fill="#e2f8e8"/>
<rect x="782" y="840" width="344" height="2" fill="#c6c6c6"/>
<rect x="782" y="1145.25" width="344" height="1.5" fill="#cfcfcf"/>
<g transform="translate(868.48 798.5999999999999) scale(1.72)"><rect x="1.5" y="2.5" width="13" height="11" rx="2" fill="#ebecf0" stroke="#5f6370" stroke-width="1"/><path d="M1.5 5.5 H14.5 M5.5 3 V13 M10.5 3 V13" stroke="#5f6370" stroke-width="1" fill="none"/></g>
<text x="908" y="825.8" font-size="34" fill="#000" font-weight="bold" text-anchor="start" textLength="122.3" lengthAdjust="spacingAndGlyphs">address</text>
<g transform="translate(790 859.3)"><path d="M1 4.5 A3.5 3.5 0 0 1 4.5 1 H8 V19.6 H1 Z" fill="#ebecf0"/><path d="M8 1 H20.5 A3.5 3.5 0 0 1 24 4.5 V16.1 A3.5 3.5 0 0 1 20.5 19.6 H9.1" fill="none" stroke="#5f6370" stroke-width="2.0"/><path d="M1 14 V4.5 A3.5 3.5 0 0 1 4.5 1 H8 M8 1 V17" fill="none" stroke="#5f6370" stroke-width="2.0"/><circle cx="2.5" cy="20.1" r="3.3" fill="none" stroke="#5f6370" stroke-width="1.9"/></g>
<text x="822.7" y="880.8" font-size="26" fill="#000" font-weight="bold" text-anchor="start" >address</text>
<text x="1114.6" y="880.8" font-size="26" fill="#818594" font-weight="normal" text-anchor="end" >varchar(50)</text>
<g transform="translate(790 901.1)"><path d="M1 4.5 A3.5 3.5 0 0 1 4.5 1 H8 V19.6 H1 Z" fill="#ebecf0"/><path d="M8 1 H20.5 A3.5 3.5 0 0 1 24 4.5 V16.1 A3.5 3.5 0 0 1 20.5 19.6 H8" fill="none" stroke="#5f6370" stroke-width="2.0"/><path d="M8 19.6 H4.5 A3.5 3.5 0 0 1 1 16.1 V4.5 A3.5 3.5 0 0 1 4.5 1 H8 M8 1 V19.6" fill="none" stroke="#5f6370" stroke-width="2.0"/></g>
<text x="822.7" y="922.6" font-size="26" fill="#000" font-weight="bold" text-anchor="start" >address2</text>
<text x="1114.6" y="922.6" font-size="26" fill="#818594" font-weight="normal" text-anchor="end" >varchar(50)</text>
<g transform="translate(790 943.2)"><path d="M1 4.5 A3.5 3.5 0 0 1 4.5 1 H8 V19.6 H1 Z" fill="#ebecf0"/><path d="M8 1 H20.5 A3.5 3.5 0 0 1 24 4.5 V16.1 A3.5 3.5 0 0 1 20.5 19.6 H9.1" fill="none" stroke="#5f6370" stroke-width="2.0"/><path d="M1 14 V4.5 A3.5 3.5 0 0 1 4.5 1 H8 M8 1 V17" fill="none" stroke="#5f6370" stroke-width="2.0"/><circle cx="2.5" cy="20.1" r="3.3" fill="none" stroke="#5f6370" stroke-width="1.9"/></g>
<text x="822.7" y="964.7" font-size="26" fill="#000" font-weight="bold" text-anchor="start" >district</text>
<text x="1114.6" y="964.7" font-size="26" fill="#818594" font-weight="normal" text-anchor="end" >varchar(20)</text>
<g transform="translate(790 985.7)"><path d="M1 4.5 A3.5 3.5 0 0 1 4.5 1 H8 V19.6 H1 Z" fill="#e6effd"/><path d="M8 1 H20.5 A3.5 3.5 0 0 1 24 4.5 V7" fill="none" stroke="#5f6370" stroke-width="2.0"/><path d="M9.3 19.6 H19" fill="none" stroke="#5f6370" stroke-width="2.0"/><circle cx="22.1" cy="13" r="3" fill="none" stroke="#0a72f5" stroke-width="2"/><path d="M22.1 16 V23.8 M22.1 22.2 H26.2" fill="none" stroke="#0a72f5" stroke-width="2"/><path d="M1 14 V4.5 A3.5 3.5 0 0 1 4.5 1 H8 M8 1 V17" fill="none" stroke="#0a72f5" stroke-width="2.0"/><circle cx="2.5" cy="20.1" r="3.3" fill="none" stroke="#5f6370" stroke-width="1.9"/></g>
<text x="822.7" y="1007.2" font-size="26" fill="#000" font-weight="bold" text-anchor="start" >city_id</text>
<text x="1115.6" y="1007.2" font-size="26" fill="#818594" font-weight="normal" text-anchor="end" >smallint</text>
<g transform="translate(790 1028.0)"><path d="M1 4.5 A3.5 3.5 0 0 1 4.5 1 H8 V19.6 H1 Z" fill="#ebecf0"/><path d="M8 1 H20.5 A3.5 3.5 0 0 1 24 4.5 V16.1 A3.5 3.5 0 0 1 20.5 19.6 H8" fill="none" stroke="#5f6370" stroke-width="2.0"/><path d="M8 19.6 H4.5 A3.5 3.5 0 0 1 1 16.1 V4.5 A3.5 3.5 0 0 1 4.5 1 H8 M8 1 V19.6" fill="none" stroke="#5f6370" stroke-width="2.0"/></g>
<text x="822.7" y="1049.5" font-size="26" fill="#000" font-weight="bold" text-anchor="start" >postal_code</text>
<text x="1114.6" y="1049.5" font-size="26" fill="#818594" font-weight="normal" text-anchor="end" >varchar(10)</text>
<g transform="translate(790 1070.2)"><path d="M1 4.5 A3.5 3.5 0 0 1 4.5 1 H8 V19.6 H1 Z" fill="#ebecf0"/><path d="M8 1 H20.5 A3.5 3.5 0 0 1 24 4.5 V16.1 A3.5 3.5 0 0 1 20.5 19.6 H9.1" fill="none" stroke="#5f6370" stroke-width="2.0"/><path d="M1 14 V4.5 A3.5 3.5 0 0 1 4.5 1 H8 M8 1 V17" fill="none" stroke="#5f6370" stroke-width="2.0"/><circle cx="2.5" cy="20.1" r="3.3" fill="none" stroke="#5f6370" stroke-width="1.9"/></g>
<text x="822.7" y="1091.7" font-size="26" fill="#000" font-weight="bold" text-anchor="start" >phone</text>
<text x="1114.6" y="1091.7" font-size="26" fill="#818594" font-weight="normal" text-anchor="end" >varchar(20)</text>
<g transform="translate(790 1113.2)"><path d="M1 4.5 A3.5 3.5 0 0 1 4.5 1 H8 V19.6 H1 Z" fill="#ebecf0"/><path d="M8 1 H20.5 A3.5 3.5 0 0 1 24 4.5 V16.1 A3.5 3.5 0 0 1 20.5 19.6 H9.1" fill="none" stroke="#5f6370" stroke-width="2.0"/><path d="M1 14 V4.5 A3.5 3.5 0 0 1 4.5 1 H8 M8 1 V17" fill="none" stroke="#5f6370" stroke-width="2.0"/><circle cx="2.5" cy="20.1" r="3.3" fill="none" stroke="#5f6370" stroke-width="1.9"/></g>
<text x="822.7" y="1134.7" font-size="26" fill="#000" font-weight="bold" text-anchor="start" >last_update</text>
<text x="1115.1" y="1134.7" font-size="26" fill="#818594" font-weight="normal" text-anchor="end" >timestamp</text>
<g transform="translate(790 1157.0)"><path d="M1 4.5 A3.5 3.5 0 0 1 4.5 1 H8 V19.6 H1 Z" fill="#e6effd"/><path d="M8 1 H20.5 A3.5 3.5 0 0 1 24 4.5 V7" fill="none" stroke="#5f6370" stroke-width="2.0"/><path d="M9.3 19.6 H19" fill="none" stroke="#5f6370" stroke-width="2.0"/><circle cx="22.1" cy="13" r="3" fill="none" stroke="#f66a0a" stroke-width="2"/><path d="M22.1 16 V23.8 M22.1 22.2 H26.2" fill="none" stroke="#f66a0a" stroke-width="2"/><path d="M1 14 V4.5 A3.5 3.5 0 0 1 4.5 1 H8 M8 1 V17" fill="none" stroke="#0a72f5" stroke-width="2.0"/><circle cx="2.5" cy="20.1" r="3.3" fill="none" stroke="#5f6370" stroke-width="1.9"/></g>
<text x="822.7" y="1178.5" font-size="26" fill="#000" font-weight="bold" text-anchor="start" >address_id</text>
<text x="1116.0" y="1178.5" font-size="26" fill="#818594" font-weight="normal" text-anchor="end" >integer</text>
</g>
</svg></body></html>
